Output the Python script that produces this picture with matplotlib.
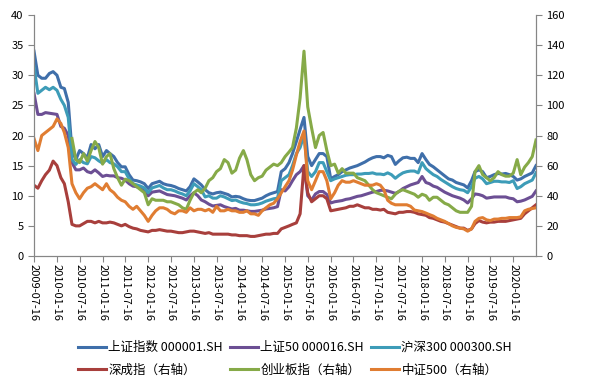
import pandas as pd
import matplotlib.pyplot as plt
import matplotlib.dates as mdates

plt.rcParams['font.family'] = ['Noto Sans CJK SC', 'DejaVu Sans']

# 月度取值（2009-07-16 起，每月一个点）
start_date = '2009-07-16'

sh_index = [34, 30, 29.5, 29.5, 30.3, 30.6, 30, 28, 27.8, 25.5,
            17.5, 16, 17.5, 17, 16.3, 18.5, 17.8, 18.5, 16.5, 17.5,
            17, 16.5, 15.5, 14.8, 14.8, 13.5, 12.6, 12.5, 12.3, 12,
            11.2, 12, 12.2, 12.4, 12, 11.8, 11.7, 11.5, 11.2, 11,
            10.8, 11.5, 12.8, 12.3, 11.8, 11, 10.5, 10.3, 10.5, 10.6,
            10.4, 10.2, 9.8, 9.9, 9.8, 9.5, 9.3, 9.2, 9.2, 9.4,
            9.6, 10, 10.3, 10.5, 10.7, 14, 14.5, 15.5, 17, 19,
            21, 23, 16.5, 15, 16, 17, 17, 16.5, 12.8, 13.2,
            13.5, 14, 14.3, 14.6, 14.8, 15, 15.3, 15.6, 16, 16.3,
            16.5, 16.5, 16.3, 16.7, 16.5, 15.2, 15.8, 16.3, 16.4, 16.2,
            16.2, 15.5, 17, 16, 15.2, 14.8, 14.3, 13.8, 13.3, 12.8,
            12.6, 12.2, 12, 11.8, 11.3, 12.5, 14, 14.3, 14, 13,
            13.2, 13.5, 13.7, 13.6, 13.7, 13.5, 13.2, 12.6, 12.8, 13.2,
            13.5, 13.8, 15]

sz50 = [27, 23.5, 23.5, 23.8, 23.7, 23.6, 23.5, 21.5, 21.2, 20,
        15.5, 14.3, 14.3, 14.6, 14, 13.8, 14.3, 13.8, 13.2, 13.4,
        13.3, 13.3, 13, 12.9, 12.6, 12, 11.6, 11.5, 11.2, 10.8,
        10, 10.6, 10.7, 10.8, 10.5, 10.2, 10.1, 10, 9.8, 9.6,
        9.3, 10, 10.5, 10, 9.3, 9, 8.6, 8.3, 8.4, 8.5,
        8.2, 8, 7.8, 7.9, 7.6, 7.6, 7.5, 7.4, 7.4, 7.5,
        7.6, 7.8, 7.9, 8, 8.2, 11, 10.8, 11.5, 12.5, 13.5,
        14, 15, 10, 9.3, 10.3, 10.7, 10.7, 10.2, 8.8, 9,
        9.1, 9.2, 9.4, 9.5, 9.7, 9.9, 10, 10.2, 10.4, 10.6,
        10.7, 10.9, 10.9, 10.8, 10.6, 10.4, 10.7, 11.2, 11.5, 11.8,
        12, 12.2, 13.2, 12.2, 12, 11.6, 11.4, 11, 10.6, 10.3,
        10, 9.8, 9.6, 9.3, 8.8, 9.5, 10.3, 10.2, 10, 9.6,
        9.7, 9.8, 9.8, 9.8, 9.8, 9.6, 9.5, 9, 9.1, 9.3,
        9.6, 9.9, 10.8]

hs300 = [31.5, 27, 27.5, 28, 27.6, 28, 27.5, 26, 25, 23,
         16, 15.2, 16, 15.5, 15.3, 16.5, 16.3, 15.8, 15.4, 16,
         15.5, 15.3, 14.8, 14, 14, 12.8, 12, 11.8, 11.6, 11.3,
         10.5, 11.3, 11.5, 11.7, 11.3, 11, 11, 10.8, 10.5, 10.3,
         10, 10.8, 12, 11.5, 11, 9.8, 10, 9.6, 9.6, 10,
         9.8, 9.5, 9.2, 9.3, 9, 8.8, 8.7, 8.5, 8.5, 8.6,
         8.8, 9.1, 9.3, 9.5, 9.6, 12.5, 13, 13.5, 15, 17,
         18, 20, 14, 13.2, 14, 15.5, 15.5, 14, 12.5, 12.8,
         13, 13.2, 13.4, 13.5, 13.5, 13.6, 13.6, 13.7, 13.7, 13.8,
         13.6, 13.6, 13.5, 13.8, 13.5, 12.9, 13.4, 13.8, 14, 14.1,
         14.1, 13.8, 15.5, 14.5, 14, 13.5, 13.2, 12.7, 12.3, 11.9,
         11.5, 11.2, 11, 10.9, 10.5, 11.5, 12.9, 13.2, 12.8, 12,
         12.2, 12.4, 12.4, 12.3, 12.3, 12.2, 12.5, 11.2, 11.5, 12,
         12.3, 12.6, 13.8]

szcz = [47, 45, 50, 54, 57, 63, 60, 52, 48, 36,
        21, 20, 20, 21.5, 23, 23, 22, 23, 22, 22,
        22.5, 22, 21, 20, 21, 19.5, 18.5, 18, 17, 16.5,
        16, 17, 17, 17.5, 17, 16.5, 16.5, 16, 15.5, 15.5,
        16, 16.5, 16.5, 16, 15.5, 15, 15.5, 14.5, 14.5, 14.5,
        14.5, 14.5, 14, 14, 13.5, 13.5, 13.5, 13, 13, 13.5,
        14, 14.5, 14.5, 15, 15, 18, 19, 20, 21, 22,
        28, 60, 42, 36, 38, 40, 40, 38, 30, 30.5,
        31, 31.5, 32, 33, 33, 34, 33, 32, 32, 31,
        31, 30.5, 31, 29, 28.5, 28, 29, 29, 29.5, 29.5,
        29, 28, 27.5, 27, 25.5, 25, 24, 23, 22.5, 21.5,
        20.5, 19.5, 18.5, 18.5, 17, 18, 21.5, 23.5, 22.5, 22,
        22.5, 22.5, 23, 23, 23, 23.5, 24, 24.5, 25, 28,
        30, 32, 34]

cyb = [None] * 10 + [
    78, 64, 62, 68, 63, 70, 76, 72, 61, 66,
    68, 58, 52, 47, 51, 50, 48, 46, 44, 42,
    34, 38, 37, 37, 37, 36, 36, 35, 34, 32,
    31, 37, 42, 44, 42, 45, 50, 52, 56, 58,
    64, 62, 55, 57, 65, 70, 64, 54, 50, 52,
    53, 57, 59, 61, 60, 62, 66, 69, 72, 85,
    105, 136, 99, 85, 72, 80, 82, 70, 60, 61,
    55, 58, 55, 55, 55, 52, 51, 50, 47, 44,
    42, 41, 40, 39, 38, 41, 43, 44, 43, 42,
    41, 39, 41, 40, 37, 39, 39, 37, 35, 34,
    32, 30, 29, 29, 29, 33, 56, 60, 54, 52,
    50, 52, 56, 54, 53, 53, 55, 64, 54, 59,
    62, 66, 77]

zz500 = [78, 70, 80, 82, 84, 86, 91, 88, 82, 72,
         48, 42, 38, 42, 45, 46, 48, 46, 44, 48,
         44, 42, 39, 37, 36, 33, 31, 33, 30, 27,
         23, 27, 30, 32, 32, 31, 29, 28, 30, 30,
         29, 32, 30, 31, 31, 30, 31, 29, 33, 30,
         30, 31, 30, 30, 29, 29, 30, 28, 28, 27,
         30, 32, 34, 35, 38, 42, 46, 50, 57, 67,
         76, 83, 50, 44, 50, 56, 56, 50, 38, 42,
         47, 50, 49, 49, 50, 49, 48, 47, 47, 47,
         48, 47, 44, 37, 35, 34, 34, 34, 34, 33,
         30.5, 30, 29.5, 28.5, 27.5, 26.5, 25, 24, 23, 21.5,
         20, 19, 18.5, 18, 16.5, 18, 23, 25, 25.5, 24,
         23.5, 24.5, 24.5, 25, 25, 25.5, 25.5, 25.5, 26, 30,
         31, 31.5, 32]

dates = pd.date_range(start_date, periods=len(sh_index), freq=pd.DateOffset(months=1))
df = pd.DataFrame({'sh': sh_index, 'sz50': sz50, 'hs300': hs300,
                   'szcz': szcz, 'cyb': cyb, 'zz500': zz500}, index=dates)
df = df.astype(float)

axis_color = '#868686'

fig = plt.figure(figsize=(5.96, 3.89), dpi=100)
ax = fig.add_axes([34 / 596, 1 - 256 / 389, (536 - 34) / 596, (256 - 15) / 389])
ax2 = ax.twinx()

lw = 2.2
l1, = ax.plot(df.index, df['sh'], color='#3f6faa', lw=lw, label='上证指数 000001.SH')
l2, = ax.plot(df.index, df['sz50'], color='#6c4f94', lw=lw, label='上证50 000016.SH')
l3, = ax.plot(df.index, df['hs300'], color='#3d9cb8', lw=lw, label='沪深300 000300.SH')
l4, = ax2.plot(df.index, df['szcz'], color='#a83f3c', lw=lw, label='深成指（右轴）')
l5, = ax2.plot(df.index, df['cyb'], color='#86aa48', lw=lw, label='创业板指（右轴）')
l6, = ax2.plot(df.index, df['zz500'], color='#e07d32', lw=lw, label='中证500（右轴）')

ax.set_ylim(0, 40)
ax.set_yticks(range(0, 41, 5))
ax2.set_ylim(0, 160)
ax2.set_yticks(range(0, 161, 20))
ax.set_xlim(df.index[0], df.index[-1])

xticks = pd.date_range('2009-07-16', '2020-01-16', freq=pd.DateOffset(months=6))
ax.set_xticks(xticks)
ax.xaxis.set_major_formatter(mdates.DateFormatter('%Y-%m-%d'))
plt.setp(ax.get_xticklabels(), rotation=270, ha='center', va='top')

for a in (ax, ax2):
    a.spines['top'].set_visible(False)
    for s in ('left', 'right', 'bottom'):
        a.spines[s].set_color(axis_color)
    a.tick_params(direction='out', length=4, color=axis_color, labelsize=8, labelcolor='black')
ax.tick_params(axis='x', pad=2)

# 图例按行排列：上面三个左轴，下面三个右轴
handles = [l1, l4, l2, l5, l3, l6]
fig.legend(handles=handles, labels=[h.get_label() for h in handles], ncol=3,
           loc='center', bbox_to_anchor=(0.495, 0.078), frameon=False, fontsize=9,
           handlelength=2.2, handletextpad=0.2, columnspacing=0.6, labelspacing=0.75)

fig.savefig('out.png', dpi=100)
